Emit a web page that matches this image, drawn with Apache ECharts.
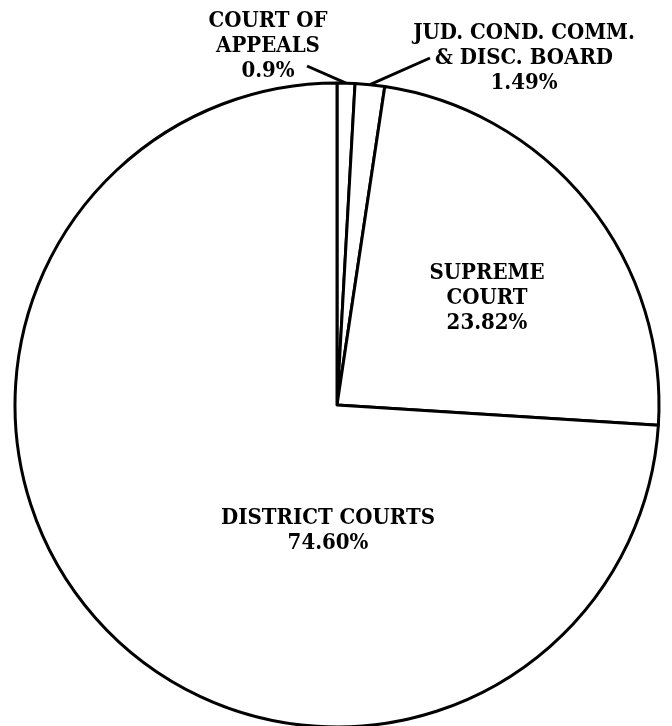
<!DOCTYPE html>
<html>
<head>
<meta charset="utf-8">
<script src="https://cdn.jsdelivr.net/npm/echarts@6/dist/echarts.min.js"></script>
<style>
  html, body { margin: 0; padding: 0; background: #fff; }
  #chart { width: 672px; height: 726px; }
</style>
</head>
<body>
<div id="chart"></div>
<script>
// slices, clockwise from 12 o'clock
const names = ['COURT OF\nAPPEALS', 'JUD. COND. COMM.\n& DISC. BOARD', 'SUPREME\nCOURT', 'DISTRICT COURTS']
const values = [0.9, 1.49, 23.82, 74.60]
const valueLabels = ['0.9%', '1.49%', '23.82%', '74.60%']

// where each label block sits (center), and where the leader ends
const labelPos = [[268, 46], [524, 58], [487, 298], [328, 531]]
const leaderEnd = [[307, 66], [430, 58], null, null]

const chart = echarts.init(document.getElementById('chart'))

chart.setOption({
  backgroundColor: '#fff',
  animation: false,
  series: [{
    type: 'pie',
    center: [337, 405],
    radius: 322,
    startAngle: 90,
    clockwise: true,
    avoidLabelOverlap: false,
    data: names.map((n, i) => ({
      name: n,
      value: values[i],
      label: { position: i < 2 ? 'outside' : 'inside' },
      labelLine: { show: i < 2 }
    })),
    itemStyle: { color: '#fff', borderColor: '#000', borderWidth: 3 },
    label: {
      formatter: (p) => p.name + '\n' + valueLabels[p.dataIndex],
      fontFamily: '"DejaVu Serif Condensed", "DejaVu Serif", serif',
      fontWeight: 'bold',
      fontSize: 22,
      lineHeight: 25,
      color: '#000',
      align: 'center'
    },
    labelLine: {
      length: 10,
      length2: 10,
      lineStyle: { color: '#000', width: 3 }
    },
    labelLayout: (p) => {
      const i = p.dataIndex
      const out = { x: labelPos[i][0], y: labelPos[i][1], align: 'center', verticalAlign: 'middle' }
      if (leaderEnd[i] && p.labelLinePoints) {
        out.labelLinePoints = [p.labelLinePoints[0], leaderEnd[i], leaderEnd[i]]
      }
      return out
    },
    emphasis: { disabled: true }
  }]
})
</script>
</body>
</html>
